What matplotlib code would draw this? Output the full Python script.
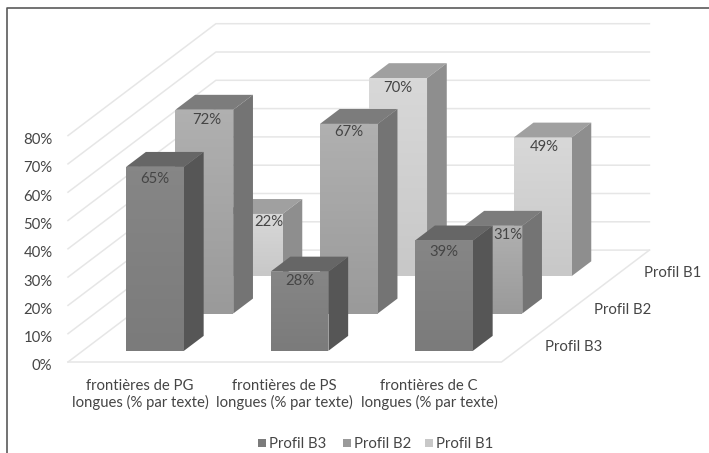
import numpy as np
import matplotlib
matplotlib.use("Agg")
import matplotlib.pyplot as plt
from matplotlib.colors import LinearSegmentedColormap
from matplotlib.patches import Polygon, Rectangle

plt.rcParams['font.family'] = ['Lato', 'DejaVu Sans']

categories = ["frontières de PG\nlongues (% par texte)",
              "frontières de PS\nlongues (% par texte)",
              "frontières de C\nlongues (% par texte)"]
series = ["Profil B3", "Profil B2", "Profil B1"]
b3 = [65, 28, 39]
b2 = [72, 67, 31]
b1 = [22, 70, 49]
ticks = [0, 10, 20, 30, 40, 50, 60, 70, 80]

# front (top, bottom of gradient), top face, side face
colors = [("#868686", "#7b7b7b", "#666666", "#565656"),
          ("#b0b0b0", "#9a9a9a", "#7c7c7c", "#747474"),
          ("#d8d8d8", "#c8c8c8", "#a0a0a0", "#8e8e8e")]
text_col = "#454545"
grid_col = "#e6e6e6"

# oblique projection of the chart box onto the page, in pixels
x0, y0 = 68, 362
cat_w = 144.5
unit = 2.83
dep_x, dep_y = 49.3, -37.3


def proj(c, s, v):
    return x0 + c * cat_w + s * dep_x, y0 + s * dep_y - v * unit


def box(c, s, v, colset, zo):
    cw, sw = 0.4, 0.4
    c0, c1 = c + 0.3, c + 0.3 + cw
    s0, s1 = s + 0.3, s + 0.3 + sw
    front = [proj(c0, s0, 0), proj(c1, s0, 0), proj(c1, s0, v), proj(c0, s0, v)]
    top = [proj(c0, s0, v), proj(c1, s0, v), proj(c1, s1, v), proj(c0, s1, v)]
    side = [proj(c1, s0, 0), proj(c1, s1, 0), proj(c1, s1, v), proj(c1, s0, v)]
    ax.add_patch(Polygon(top, fc=colset[2], ec="none", zorder=zo))
    ax.add_patch(Polygon(side, fc=colset[3], ec="none", zorder=zo))
    cmap = LinearSegmentedColormap.from_list("g", [colset[0], colset[1]])
    im = ax.imshow(np.linspace(0, 1, 50).reshape(-1, 1), cmap=cmap, aspect="auto", zorder=zo,
                   extent=(front[0][0], front[1][0], front[0][1], front[2][1]))
    im.set_clip_path(Polygon(front, transform=ax.transData))
    return front


fig = plt.figure(figsize=(7.09, 4.53), dpi=100)
ax = fig.add_axes([0, 0, 1, 1])
ax.axis("off")

# frame of the picture, open on the right and at the bottom
ax.plot([6.5, 6.5, 709], [453, 7.5, 7.5], color="#5a5a5a", lw=1.2)

# walls and floor
for t in ticks:
    a = proj(0, 0, t)
    b = proj(0, 3, t)
    c = proj(3, 3, t)
    ax.plot([a[0], b[0], c[0]], [a[1], b[1], c[1]], color=grid_col, lw=1.1, zorder=1)
    ax.text(52.5, a[1] + 4.5, "%d%%" % t, ha="right", va="center", fontsize=10.7, color=text_col)
a = proj(0, 0, 0)
b = proj(3, 0, 0)
c = proj(3, 3, 0)
ax.plot([a[0], b[0], c[0]], [a[1], b[1], c[1]], color=grid_col, lw=1.1, zorder=1)

# bars, back row first
values = [b3, b2, b1]
# data labels were nudged by hand in the original
label_dx = [[0, 0, 0], [2, 0, 15], [15, 0, 2]]
label_dy = [[12.5, 9.5, 11.5], [10.5, 8.5, 9.5], [8.5, 9.5, 9.5]]
order = 2
labels = []
for s in [2, 1, 0]:
    for c in range(3):
        v = values[s][c]
        f = box(c, s, v, colors[s], order)
        order += 1
        labels.append(((f[0][0] + f[1][0]) / 2 + label_dx[s][c], f[2][1] + label_dy[s][c], "%d%%" % v))
for lx, ly, txt in labels:
    ax.text(lx, ly, txt, ha="center", va="center", fontsize=10.7, color=text_col, zorder=50)

# category and depth labels
for c, name in enumerate(categories):
    ax.text(proj(c + 0.5, 0, 0)[0], 394.5, name, ha="center", va="center", fontsize=10.7,
            color=text_col, linespacing=1.1)
for s, name in enumerate(series):
    p = proj(3, s + 0.5, 0)
    ax.text(p[0] + 19, p[1] + 4, name, ha="left", va="center", fontsize=10.7, color=text_col)

# legend
leg_x = [258, 343, 425]
for s, name in enumerate(series):
    ax.add_patch(Rectangle((leg_x[s], 439), 8, 8, fc=colors[s][1], ec="none"))
    ax.text(leg_x[s] + 11, 444.5, name, ha="left", va="center", fontsize=10.7, color=text_col)

ax.set_xlim(0, 709)
ax.set_ylim(453, 0)
fig.savefig("out.png", dpi=100)
